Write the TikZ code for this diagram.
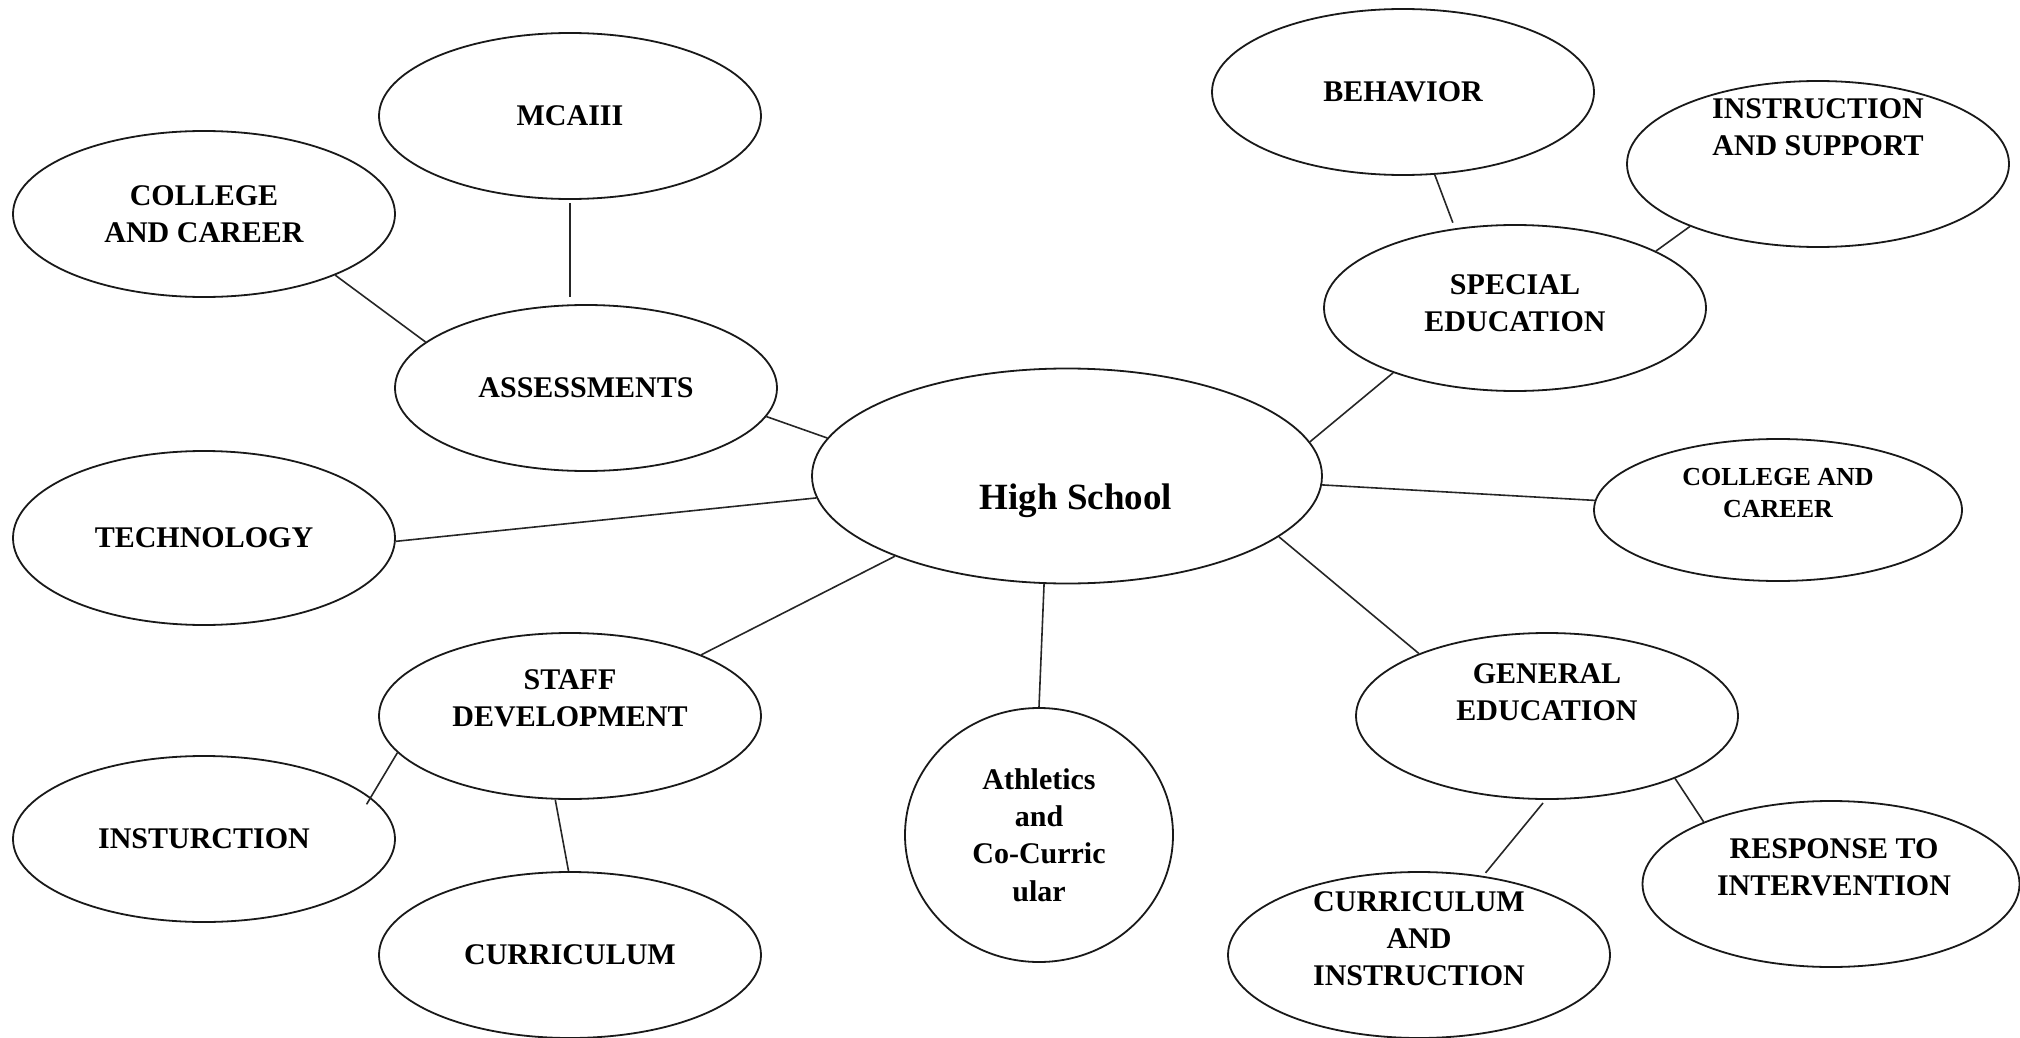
\documentclass[tikz,border=0pt]{standalone}
\usepackage{fontspec}
\setmainfont{Liberation Serif}
\usetikzlibrary{shapes.geometric}
\begin{document}
\begin{tikzpicture}[x=0.5pt,y=-0.5pt,
  bub/.style={ellipse, draw=black!90, line width=0.9pt, inner sep=0pt,
    minimum width=191pt, minimum height=83pt,
    font=\fontsize{15}{18.6}\selectfont\bfseries, align=center},
  txt/.style={inner sep=0pt, font=\fontsize{15}{18.6}\selectfont\bfseries, align=center},
  link/.style={draw=black!85, line width=0.8pt}]
\useasboundingbox (0,0) rectangle (2020,1038);

% left side
\node[bub] (mca) at (570,116) {MCAIII};
\node[bub] (ccl) at (204,214) {COLLEGE\\AND CAREER};
\node[bub] (ass) at (586,388) {ASSESSMENTS};
\node[bub, minimum height=87pt] (tech) at (204,538) {TECHNOLOGY};
\node[bub] (sd) at (570,716) {};
\node[txt] (sdt) at (570,698) {STAFF\\DEVELOPMENT};
\node[bub] (ins) at (204,839) {INSTURCTION};
\node[bub] (cur) at (570,955) {CURRICULUM};

% centre
\node[bub, minimum width=255pt, minimum height=107.5pt] (hs) at (1067,476) {};
\node[txt, font=\fontsize{18.5}{22}\selectfont\bfseries] (hst) at (1076,501) {High School};
\node[bub, minimum width=134pt, minimum height=127pt] (ath) at (1039,835) {Athletics\\and\\Co-Curric\\ular};

% right side
\node[bub] (beh) at (1403,92) {BEHAVIOR};
\node[bub] (is) at (1818,164) {};
\node[txt] (ist) at (1818,127) {INSTRUCTION\\AND SUPPORT};
\node[bub] (se) at (1515,308) {};
\node[txt] (set) at (1515,303) {SPECIAL\\EDUCATION};
\node[bub, minimum width=184pt, minimum height=71pt] (ccr) at (1778,510) {};
\node[txt, font=\fontsize{13}{16}\selectfont\bfseries] (ccrt) at (1778,493) {COLLEGE AND\\CAREER};
\node[bub] (ge) at (1547,716) {};
\node[txt] (get) at (1547,692) {GENERAL\\EDUCATION};
\node[bub] (ci) at (1419,955) {};
\node[txt] (cit) at (1419,939) {CURRICULUM\\AND\\INSTRUCTION};
\node[bub, minimum width=188.5pt] (rti) at (1831,884) {};
\node[txt] (rtit) at (1834,867) {RESPONSE TO\\INTERVENTION};

% connectors
\draw[link, shorten <=1.5pt, shorten >=3.5pt] (mca.south) -- (mca.south |- ass.north);
\draw[link] (ccl.-25) -- (ass.164.5);
\draw[link] (ass.-9) -- (hs.171);
\draw[link] (tech.-1) -- (hs.185);
\draw[link] (sd.25) -- (hs.205);
\draw[link] (hs.-102) -- (ath.north);
\draw[link] (hs.-16) -- (ge.154.5);
\draw[link] (hs.-2.7) -- (ccr.177);
\draw[link] (hs.8.7) -- (se.208.7);
\draw[link, shorten >=3pt] (beh.-69) -- (se.127);
\draw[link] (is.206) -- (se.22);
\draw[link, shorten >=-4pt] (sd.192) -- (ins.14.4);
\draw[link] (sd.-100) -- (cur.91);
\draw[link, shorten <=2pt, shorten >=2pt] (ge.-91) -- (ci.51);
\draw[link] (ge.-26.6) -- (rti.154.5);
\end{tikzpicture}
\end{document}
